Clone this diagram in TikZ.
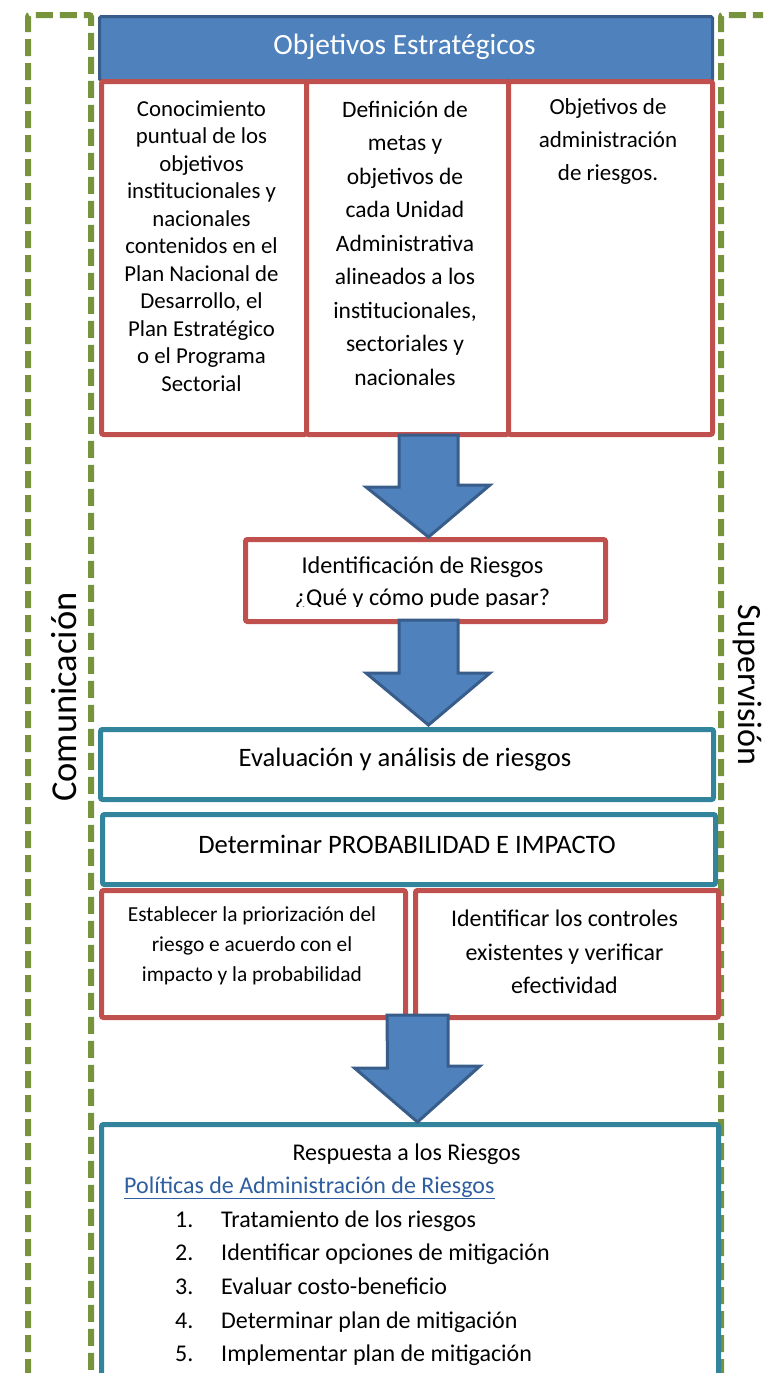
\documentclass[tikz,border=0pt]{standalone}
\usepackage{fontspec}
\setmainfont{Carlito}
\usetikzlibrary{calc}
\definecolor{hdrfill}{HTML}{4F81BD}
\definecolor{hdrline}{HTML}{385D8A}
\definecolor{redb}{HTML}{C0504D}
\definecolor{tealb}{HTML}{31849B}
\definecolor{greenb}{HTML}{77933C}
\definecolor{linkb}{HTML}{2F5FA0}
\newcommand{\fs}[2]{\fontsize{#1}{#2}\selectfont}
\begin{document}
\begin{tikzpicture}[x=1pt,y=-1pt,
  greendash/.style={draw=greenb,line width=6pt,dash pattern=on 17pt off 7pt},
  hdrbox/.style={draw=hdrline,fill=hdrfill,line width=3pt,rounded corners=1.5pt,inner sep=0pt},
  redbox/.style={draw=redb,fill=white,line width=5pt,rounded corners=2pt,inner sep=0pt},
  tealbox/.style={draw=tealb,fill=white,line width=5pt,rounded corners=2pt,inner sep=0pt},
  blkarrow/.style={draw=hdrline,fill=hdrfill,line width=3pt,line join=miter},
  txt/.style={inner sep=0pt,align=center,text=black}]
\useasboundingbox (0,0) rectangle (763,1373);
\clip (0,0) rectangle (763,1373);

% communication / supervision frames
\draw[greendash,rounded corners=2pt] (28,1400) -- (28,15) -- (91,15) -- (91,1400);
\draw[greendash,rounded corners=2pt] (721,1400) -- (721,15) -- (800,15);
\node[txt,rotate=90,font=\fs{36.5}{40}] (com) at (64,697) {Comunicación};
\node[txt,rotate=-90,font=\fs{34}{40}] (sup) at (747,685) {Supervisión};

% header
\node[hdrbox,minimum width=613pt,minimum height=64pt,anchor=north west] (hdr) at (98,15) {};
\node[txt,text=white,font=\fs{29.4}{34}] (hdrt) at (404.5,47) {Objetivos Estratégicos};

% three objective columns
\node[redbox,minimum width=205pt,minimum height=353pt,anchor=north west] (c1) at (99,79) {};
\node[redbox,minimum width=202pt,minimum height=353pt,anchor=north west] (c2) at (304,79) {};
\node[redbox,minimum width=204pt,minimum height=353pt,anchor=north west] (c3) at (506,79) {};
\node[txt,font=\fs{22.8}{27.5}] (c1t) at (201.5,246) {Conocimiento\\puntual de los\\objetivos\\institucionales y\\nacionales\\contenidos en el\\Plan Nacional de\\Desarrollo, el\\Plan Estratégico\\o el Programa\\Sectorial};
\node[txt,font=\fs{23.5}{33.5}] (c2t) at (405,243) {Definición de\\metas y\\objetivos de\\cada Unidad\\Administrativa\\alineados a los\\institucionales,\\sectoriales y\\nacionales};
\node[txt,font=\fs{23}{33}] (c3t) at (608,141) {Objetivos de\\administración\\de riesgos.};

% identification
\node[redbox,minimum width=360pt,minimum height=82pt,anchor=north west] (ident) at (243,537) {};
\begin{scope}
  \clip (245,539) rectangle (601,606);
  \node[txt,font=\fs{24.2}{32}] (identt) at (422.5,583) {Identificación de Riesgos\\¿Qué y cómo pude pasar?};
\end{scope}

% evaluation
\node[tealbox,minimum width=613pt,minimum height=70pt,anchor=north west] (eval) at (98,727) {};
\node[txt,font=\fs{26.6}{32}] (evalt) at (405,760) {Evaluación y análisis de riesgos};
\node[tealbox,minimum width=613pt,minimum height=70pt,anchor=north west] (det) at (100,812) {};
\node[txt,font=\fs{26.6}{32}] (dett) at (407,844) {Determinar PROBABILIDAD E IMPACTO};

% two boxes
\node[redbox,minimum width=304pt,minimum height=127pt,anchor=north west] (prio) at (99,888) {};
\node[txt,font=\fs{21.4}{30}] (priot) at (252,946) {Establecer la priorización del\\riesgo e acuerdo con el\\impacto y la probabilidad};
\node[redbox,minimum width=303pt,minimum height=127pt,anchor=north west] (ctrl) at (413,888) {};
\node[txt,font=\fs{23.9}{33.5}] (ctrlt) at (564.5,952) {Identificar los controles\\existentes y verificar\\efectividad};

% response
\node[tealbox,minimum width=617pt,minimum height=290pt,anchor=north west] (resp) at (99,1122) {};
\node[txt,font=\fs{24}{30},anchor=base] (respt) at (406.5,1160) {Respuesta a los Riesgos};
\node[txt,font=\fs{24}{30},text=linkb,anchor=base west] (pol) at (124,1193) {\underline{Políticas de Administración de Riesgos}};
\foreach \i/\t in {1/Tratamiento de los riesgos,2/Identificar opciones de mitigación,3/Evaluar costo-beneficio,4/Determinar plan de mitigación,5/Implementar plan de mitigación}{
  \node[txt,font=\fs{24}{30},anchor=base west] (n\i) at (175,{1193.3+33.7*\i}) {\i.};
  \node[txt,font=\fs{24}{30},anchor=base west] (it\i) at (221,{1193.3+33.7*\i}) {\t};
}

% block arrows
\coordinate (a1) at (428.5,435);
\coordinate (a2) at (428.5,620);
\coordinate (a3) at (417.5,1015);
\draw[blkarrow] (a1) ++(-29.5,0) -- ++(59,0) -- ++(0,50) -- ++(32,0) -- (ident.north -| a1) -- ++(-62.5,-50) -- ++(33,0) -- cycle;
\draw[blkarrow] (a2) ++(-29.5,0) -- ++(59,0) -- ++(0,53) -- ++(32,0) -- ($(eval.north -| a2)+(0,-2)$) -- ++(-62.5,-52) -- ++(33,0) -- cycle;
\draw[blkarrow] (a3) ++(-30.5,0) -- ++(61,0) -- ++(0,51) -- ++(32,0) -- (resp.north -| a3) -- ++(-63,-54) -- ++(33,0) -- cycle;
\end{tikzpicture}
\end{document}
